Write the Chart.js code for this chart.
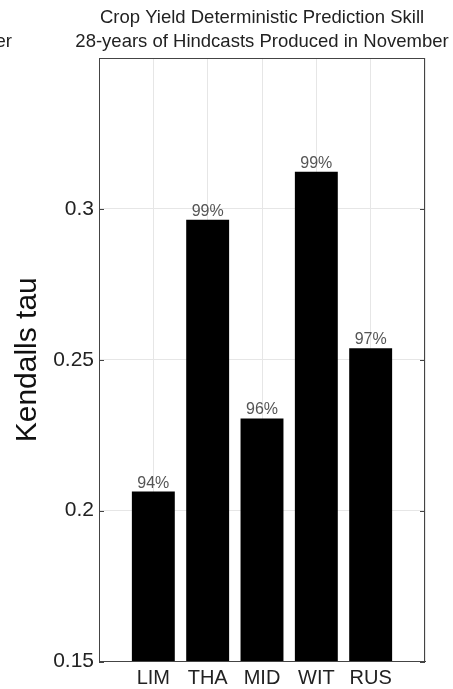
<!DOCTYPE html>
<html>
<head>
<meta charset="utf-8">
<script src="https://cdn.jsdelivr.net/npm/chart.js@4.4.1/dist/chart.umd.min.js"></script>
<style>
  body { margin: 0; background: #fff; }
  canvas { display: block; }
</style>
</head>
<body>
<canvas id="myChartBar" width="453" height="689"></canvas>
<script>
// dados
var categorias = ['LIM', 'THA', 'MID', 'WIT', 'RUS'];
var kendallTau = [0.2063, 0.2964, 0.2305, 0.3123, 0.2538];
var significancia = ['94%', '99%', '96%', '99%', '97%'];
var tituloLinhas = ['Crop Yield Deterministic Prediction Skill', '28-years of Hindcasts Produced in November'];
var yMin = 0.15, yMax = 0.35, yPasso = 0.05;

var fonte = '"Liberation Sans", Arial, Helvetica, sans-serif';

// uma categoria vazia de cada lado, como o eixo do original (xlim 0..6)
var labels = [''].concat(categorias, ['']);
var valores = [null].concat(kendallTau, [null]);

var pluginMoldura = {
    id: 'moldura',
    afterDatasetsDraw: function (chart) {
        var ctx = chart.ctx;
        var meta = chart.getDatasetMeta(0);
        ctx.save();
        ctx.font = '16px ' + fonte;
        ctx.fillStyle = '#555';
        ctx.textAlign = 'center';
        ctx.textBaseline = 'bottom';
        for (var i = 0; i < kendallTau.length; i++) {
            var bar = meta.data[i + 1];
            ctx.fillText(significancia[i], bar.x, bar.y - 0.5);
        }
        ctx.restore();
    },
    afterDraw: function (chart) {
        var ctx = chart.ctx;
        var a = chart.chartArea;
        var y = chart.scales.y;
        ctx.save();
        // caixa completa
        ctx.strokeStyle = '#444';
        ctx.lineWidth = 1;
        ctx.strokeRect(Math.round(a.left) + 0.5, Math.round(a.top) + 0.5,
            Math.round(a.right - a.left) - 1, Math.round(a.bottom - a.top) - 1);
        // ticks para dentro
        ctx.beginPath();
        y.ticks.forEach(function (t) {
            var py = Math.round(y.getPixelForValue(t.value)) + 0.5;
            ctx.moveTo(a.left, py); ctx.lineTo(a.left + 5, py);
            ctx.moveTo(a.right, py); ctx.lineTo(a.right - 5, py);
        });
        ctx.stroke();
        // titulo
        var cx = (a.left + a.right) / 2;
        ctx.font = '18.5px ' + fonte;
        ctx.fillStyle = '#222';
        ctx.textAlign = 'center';
        ctx.textBaseline = 'alphabetic';
        ctx.fillText(tituloLinhas[0], cx, 23);
        ctx.fillText(tituloLinhas[1], cx, 47);
        // pedaco do titulo do painel vizinho
        ctx.textAlign = 'right';
        ctx.fillText('er', 12, 47);
        ctx.restore();
    }
};

new Chart(document.getElementById('myChartBar'), {
    type: 'bar',
    data: {
        labels: labels,
        datasets: [{
            label: 'Kendalls tau',
            data: valores,
            backgroundColor: '#000',
            borderWidth: 0,
            categoryPercentage: 1,
            barPercentage: 0.79
        }]
    },
    options: {
        responsive: false,
        animation: false,
        devicePixelRatio: 1,
        layout: { padding: { top: 58, right: 28, left: 0, bottom: 0 } },
        plugins: {
            legend: { display: false },
            tooltip: { enabled: false },
            title: { display: false }
        },
        scales: {
            x: {
                offset: false,
                grid: { offset: false, color: '#e6e6e6', drawTicks: false },
                border: { color: '#444' },
                ticks: {
                    autoSkip: false,
                    maxRotation: 0,
                    padding: 5,
                    color: '#222',
                    font: { family: fonte, size: 20 }
                },
                afterFit: function (scale) { scale.height = 27.5; }
            },
            y: {
                min: yMin,
                max: yMax,
                grid: { color: '#e6e6e6', drawTicks: false },
                border: { color: '#444' },
                ticks: {
                    stepSize: yPasso,
                    padding: 5,
                    color: '#222',
                    font: { family: fonte, size: 21 },
                    callback: function (v) {
                        if (v > yMax - 0.01) return '';
                        return String(+v.toFixed(2));
                    }
                },
                title: {
                    display: true,
                    text: 'Kendalls tau',
                    color: '#111',
                    font: { family: fonte, size: 30 },
                    padding: { top: 10, bottom: 0 }
                },
                afterFit: function (scale) { scale.width = 99; }
            }
        }
    },
    plugins: [pluginMoldura]
});
</script>
</body>
</html>
